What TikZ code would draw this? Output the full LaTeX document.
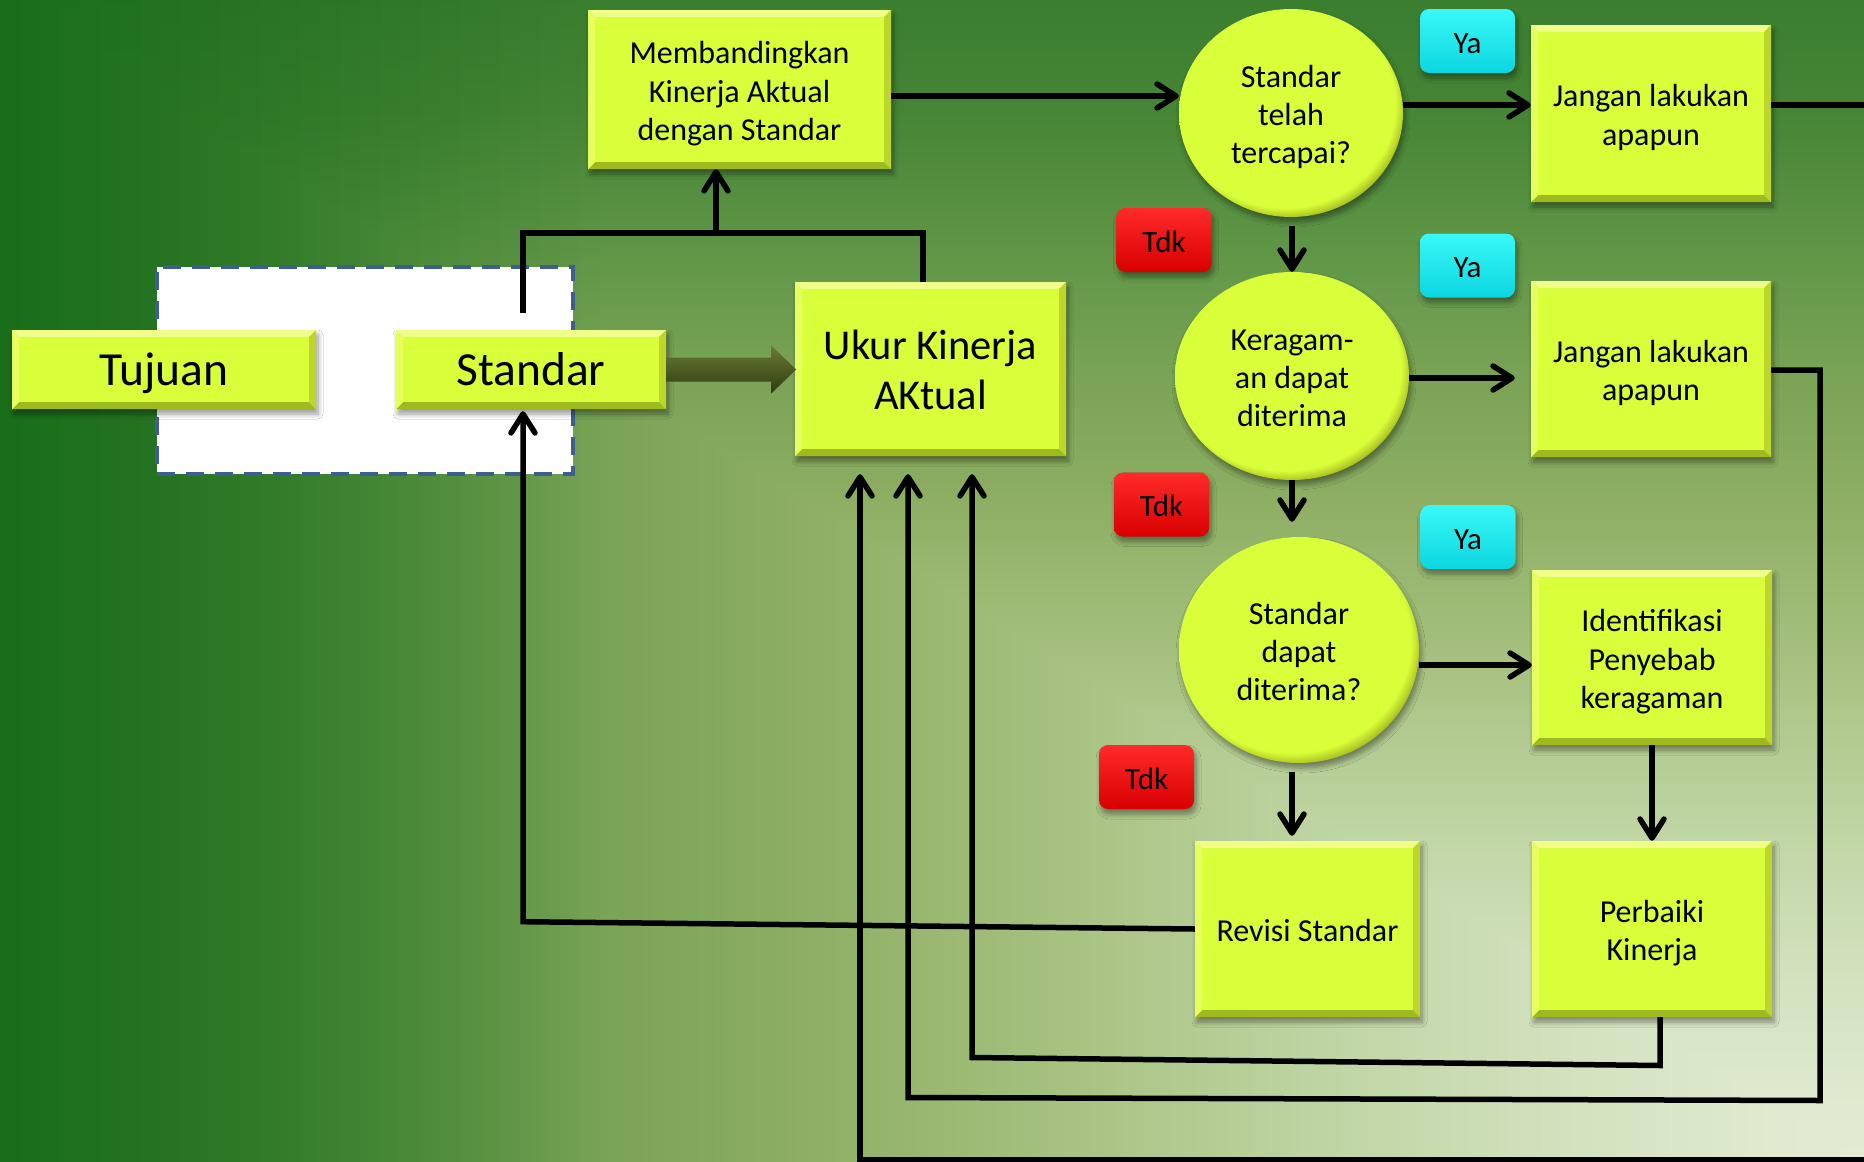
\documentclass[tikz,border=0pt]{standalone}
\usepackage{fontspec}
\setmainfont{Carlito}
\usetikzlibrary{arrows.meta,calc,shapes.geometric,shadows.blur}

\newcommand\setfs[2]{\fontsize{#1}{#2}\selectfont}
% centred block of lines, set a little low in its box
\newcommand\tx[1]{\raisebox{-5pt}[\height][\depth]{\begin{tabular}{@{}c@{}}#1\end{tabular}}}

% box and badge colours
\definecolor{boxlime}{HTML}{D8FF3A}
\definecolor{bevtop}{HTML}{F1FF8A}
\definecolor{bevleft}{HTML}{E6FF5E}
\definecolor{bevright}{HTML}{BCD62C}
\definecolor{bevbot}{HTML}{9FBA1F}
\definecolor{rimA}{HTML}{C2DE2C}
\definecolor{rimB}{HTML}{9CB61C}
\definecolor{cyanA}{HTML}{3AF8F8}
\definecolor{cyanB}{HTML}{0CD6E0}
\definecolor{redA}{HTML}{FF2A2A}
\definecolor{redB}{HTML}{D80000}
\definecolor{dashblue}{HTML}{3D5F8C}
\definecolor{olA}{HTML}{6B7B34}
\definecolor{olM}{HTML}{4C5A22}
\definecolor{olB}{HTML}{2F3B12}
\definecolor{leftdark}{HTML}{1A6E1A}

% background ramp, dark green (bgc0) to pale green (bgc9)
\definecolor{bgc0}{HTML}{3A7E2F}
\definecolor{bgc1}{HTML}{468535}
\definecolor{bgc2}{HTML}{5C9444}
\definecolor{bgc3}{HTML}{79A355}
\definecolor{bgc4}{HTML}{8DAE63}
\definecolor{bgc5}{HTML}{A5C07E}
\definecolor{bgc6}{HTML}{BCD29E}
\definecolor{bgc7}{HTML}{D0E0BB}
\definecolor{bgc8}{HTML}{DFEACF}
\definecolor{bgc9}{HTML}{E2ECD4}

\pgfdeclarehorizontalshading{bgH}{100bp}{color(0bp)=(bgc0); color(25bp)=(bgc0);
  color(29.75bp)=(bgc1); color(35bp)=(bgc2); color(41bp)=(bgc3); color(46.5bp)=(bgc4);
  color(53bp)=(bgc5); color(59.5bp)=(bgc6); color(66bp)=(bgc7); color(72.5bp)=(bgc8);
  color(75bp)=(bgc9); color(100bp)=(bgc9)}
\pgfdeclareverticalshading{bgV}{100bp}{color(0bp)=(bgc9); color(25bp)=(bgc9);
  color(27.5bp)=(bgc8); color(34bp)=(bgc7); color(40.5bp)=(bgc6); color(47bp)=(bgc5);
  color(53.5bp)=(bgc4); color(59bp)=(bgc3); color(65bp)=(bgc2); color(70.25bp)=(bgc1);
  color(75bp)=(bgc0); color(100bp)=(bgc0)}
% lime ball with a darker rim towards the lower right
\pgfdeclareradialshading{limeball}{\pgfpoint{-3bp}{4bp}}{color(0bp)=(boxlime);
  color(24.8bp)=(boxlime); color(26bp)=(rimA); color(27.5bp)=(rimB); color(50bp)=(rimB)}

\begin{document}
\begin{tikzpicture}[x=1pt,y=-1pt,
  softshadow/.style={blur shadow={shadow xshift=2pt, shadow yshift=-5pt,
      shadow blur radius=5pt, shadow opacity=40, shadow blur steps=8}},
  bevbox/.style={rectangle, fill=boxlime, inner sep=0pt, align=center, text=black,
    font=\setfs{32}{38.5}, softshadow,
    path picture={
      \fill[bevtop] (path picture bounding box.north west) -- (path picture bounding box.north east)
        -- ([shift={(-7,7)}]path picture bounding box.north east)
        -- ([shift={(7,7)}]path picture bounding box.north west) -- cycle;
      \fill[bevbot] (path picture bounding box.south west) -- (path picture bounding box.south east)
        -- ([shift={(-7,-7)}]path picture bounding box.south east)
        -- ([shift={(7,-7)}]path picture bounding box.south west) -- cycle;
      \fill[bevleft] (path picture bounding box.north west) -- ([shift={(7,7)}]path picture bounding box.north west)
        -- ([shift={(7,-7)}]path picture bounding box.south west)
        -- (path picture bounding box.south west) -- cycle;
      \fill[bevright] (path picture bounding box.north east) -- ([shift={(-7,7)}]path picture bounding box.north east)
        -- ([shift={(-7,-7)}]path picture bounding box.south east)
        -- (path picture bounding box.south east) -- cycle;
    }},
  circ/.style={ellipse, shade, shading=limeball, inner sep=0pt, align=center,
    text=black, font=\setfs{32}{38}, softshadow},
  badge/.style={rectangle, rounded corners=9pt, inner sep=0pt, minimum width=95pt,
    minimum height=64pt, text=black, font=\setfs{31}{36}, softshadow},
  yabadge/.style={badge, top color=cyanA, bottom color=cyanB},
  tdkbadge/.style={badge, top color=redA, bottom color=redB},
  conn/.style={line width=5.5pt, line join=miter, line cap=butt, draw=black},
  arr/.style={conn, -{Straight Barb[length=19pt,width=24pt,round]}},
]
\useasboundingbox (0,0) rectangle (1864,1162);
\clip (0,0) rectangle (1864,1162);

% background: light corner at the lower right, dark band on the left
\shade[shading=bgV] (0,0) rectangle (1864,1162);
\begin{scope}
  \clip (0,0) -- (0,1162) -- (1864,1162) -- cycle;
  \shade[shading=bgH] (0,0) rectangle (1864,1162);
\end{scope}
\foreach \i in {0,...,29}{
  \pgfmathsetmacro\op{1-(\i+0.5)/30}
  \fill[leftdark, fill opacity=\op] ({\i*20},0) rectangle ({\i*20+20},1162);
}

% dashed frame round the goal and the standard
\node[draw=dashblue, fill=white, line width=4.5pt, dash pattern=on 18pt off 11pt,
  minimum width=416pt, minimum height=207pt, inner sep=0pt] (grp) at (365,370.5) {};

% process boxes
\node[bevbox, minimum width=304pt, minimum height=79pt, font=\setfs{47.5}{57}] (tuj) at (164,369.5) {\tx{Tujuan}};
\node[bevbox, minimum width=270pt, minimum height=79pt, font=\setfs{47.5}{57}] (std) at (531,369.5) {\tx{Standar}};
\node[bevbox, minimum width=303pt, minimum height=159pt] (memb) at (739.5,89.5) {\tx{Membandingkan\\Kinerja Aktual\\dengan Standar}};
\node[bevbox, minimum width=271pt, minimum height=174pt, font=\setfs{42.5}{50}] (ukur) at (930.5,369) {\tx{Ukur Kinerja\\AKtual}};
\node[bevbox, minimum width=240pt, minimum height=177pt] (j1) at (1651,113.5) {\tx{Jangan lakukan\\apapun}};
\node[bevbox, minimum width=240pt, minimum height=176pt] (j2) at (1651,369) {\tx{Jangan lakukan\\apapun}};
\node[bevbox, minimum width=240pt, minimum height=175pt] (idf) at (1652,657.5) {\tx{Identifikasi\\Penyebab\\keragaman}};
\node[bevbox, minimum width=225pt, minimum height=176pt] (rev) at (1307.5,929) {\tx{Revisi Standar}};
\node[bevbox, minimum width=240pt, minimum height=176pt] (perb) at (1652,929) {\tx{Perbaiki\\Kinerja}};

% decisions
\node[circ, minimum width=224pt, minimum height=208pt] (c1) at (1291,113) {\tx{Standar\\telah\\tercapai?}};
\node[circ, minimum width=234pt, minimum height=208pt] (c2) at (1292,376) {\tx{Keragam-\\an dapat\\diterima}};
\node[circ, minimum width=240pt, minimum height=226pt] (c3) at (1299,650) {\tx{Standar\\dapat\\diterima?}};

% answer badges
\node[yabadge] (ya1) at (1467.5,41) {\tx{Ya}};
\node[yabadge] (ya2) at (1467.5,265.5) {\tx{Ya}};
\node[yabadge] (ya3) at (1468,537) {\tx{Ya}};
\node[tdkbadge] (tdk1) at (1164,240) {\tx{Tdk}};
\node[tdkbadge] (tdk2) at (1161.5,504.5) {\tx{Tdk}};
\node[tdkbadge] (tdk3) at (1146.5,777) {\tx{Tdk}};

% block arrow from the standard to the measurement
\shade[top color=olA, middle color=olM, bottom color=olB]
  (std.east) ++(0,-12) -- ++(105,0) -- ++(0,-12) -- ++(25,24) -- ++(-25,24)
  -- ++(0,-12) -- ++(-105,0) -- cycle;

% helper points
\coordinate (stout) at ($(std.north)+(-8,-17)$);
\coordinate (stin) at ($(std.south)+(-8,2)$);
\coordinate (junc) at (716,233);
\coordinate (uin1) at ($(ukur.south)+(-70.5,18)$);
\coordinate (uin2) at ($(ukur.south)+(-22.5,18)$);
\coordinate (uin3) at ($(ukur.south)+(41.5,18)$);
\coordinate (j2in) at ($(j2.west)+(-16,0)$);

% connectors
\draw[conn] (stout) -- (523,233) -- (923,233) -- ([xshift=-7.5pt]ukur.north);
\draw[arr] (junc) -- (junc |- memb.south);
\draw[arr] (memb.east |- 0,96) -- (c1.west |- 0,96);
\draw[arr] (c1.east |- 0,105) -- (j1.west |- 0,105);
\draw[arr] ($(c1.south)+(1,9)$) -- ($(c2.north)$);
\draw[arr] (c2.south) -- ($(c3.north)+(-7,-15)$);
\draw[arr] (c2.east |- 0,378) -- (j2in |- 0,378);
\draw[arr] (c3.east |- 0,665) -- (idf.west |- 0,665);
\draw[arr] ($(c3.south)+(-7,9)$) -- ($(rev.north)+(-15.5,-5)$);
\draw[arr] (idf.south) -- (perb.north);

% feedback loops
\draw[arr] (rev.west) -- (523,921.7) -- (stin);
\draw[arr] ([xshift=8pt]perb.south) -- (1660,1065.5) -- (972,1057.5) -- (uin3);
\draw[arr] (j2.east |- 0,370) -- (1820,370) -- (1820,1100.5) -- (908,1097.5) -- (uin2);
\draw[arr] (j1.east |- 0,105) -- (1885,105) -- (1885,1160) -- (860,1160) -- (uin1);
\end{tikzpicture}
\end{document}
